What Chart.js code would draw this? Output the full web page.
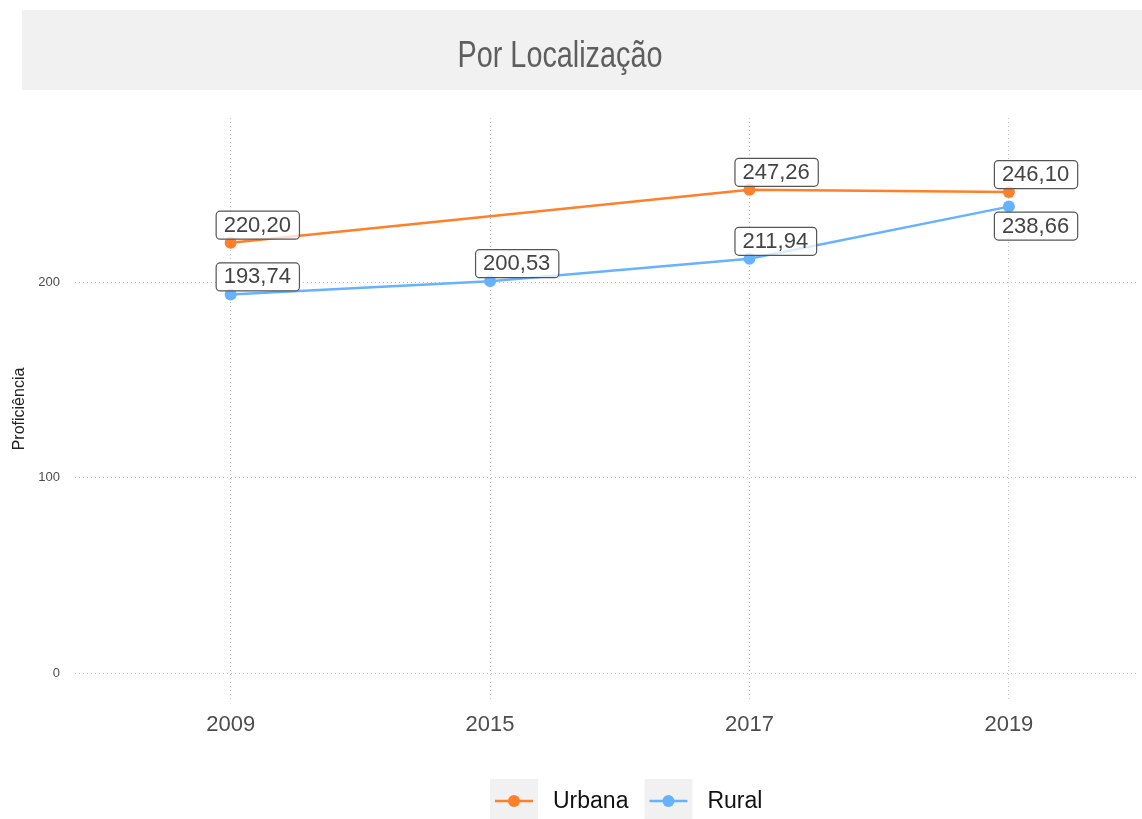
<!DOCTYPE html>
<html lang="pt">
<head>
  <meta charset="UTF-8" />
  <title>Por Localização</title>
  <script src="https://cdn.jsdelivr.net/npm/chart.js"></script>
  <style>
    html, body { margin: 0; padding: 0; background: #fff; overflow: hidden; }
    #wrap { position: relative; width: 1142px; height: 819px; }
  </style>
</head>
<body>
  <div id="wrap"><canvas id="chart" width="1142" height="819"></canvas></div>

  <script>
    // dados
    const anos = ['2009', '2015', '2017', '2019'];
    const urbana = [220.20, null, 247.26, 246.10];
    const rural = [193.74, 200.53, 211.94, 238.66];
    const yTicks = [0, 100, 200];
    const rotuloAbaixo = [[false, false, false, false], [false, false, false, true]];

    const fmt = v => v.toFixed(2).replace('.', ',');
    const pontos = arr => arr.map((v, i) => ({ x: i, y: v })).filter(p => p.y !== null);

    const SANS = '"Liberation Sans", Arial, Helvetica, sans-serif';

    // faixa cinza do título (fonte condensada simulada com escala horizontal)
    const fundoTitulo = {
      id: 'fundoTitulo',
      beforeDraw(chart) {
        const ctx = chart.ctx;
        ctx.save();
        ctx.fillStyle = '#f1f1f1';
        ctx.fillRect(22, 10, chart.width - 22, 80);
        ctx.fillStyle = '#5e5e5e';
        ctx.font = '36px ' + SANS;
        ctx.textAlign = 'center';
        ctx.textBaseline = 'alphabetic';
        ctx.translate(560, 67);
        ctx.scale(0.8, 1);
        ctx.fillText('Por Localização', 0, 0);
        ctx.restore();
      }
    };

    const rotulos = {
      id: 'rotulos',
      afterDatasetsDraw(chart) {
        const ctx = chart.ctx;
        ctx.save();
        ctx.font = '22px ' + SANS;
        ctx.textAlign = 'center';
        ctx.textBaseline = 'middle';
        chart.data.datasets.forEach((ds, d) => {
          const meta = chart.getDatasetMeta(d);
          meta.data.forEach((el, k) => {
            const p = ds.data[k];
            const txt = fmt(p.y);
            const w = ctx.measureText(txt).width + 16;
            const h = 28;
            const left = el.x - 15;
            const top = rotuloAbaixo[d][p.x] ? el.y + 5 : el.y - 4 - h;
            ctx.beginPath();
            ctx.roundRect(left + 0.5, top + 0.5, w, h, 4);
            ctx.fillStyle = 'rgba(255,255,255,0.75)';
            ctx.fill();
            ctx.lineWidth = 1.2;
            ctx.strokeStyle = '#555';
            ctx.stroke();
            ctx.fillStyle = '#444';
            ctx.fillText(txt, left + w / 2, top + h / 2 + 1);
          });
        });
        ctx.restore();
      }
    };

    const legenda = {
      id: 'legenda',
      afterDraw(chart) {
        const ctx = chart.ctx;
        ctx.save();
        ctx.font = '23px ' + SANS;
        ctx.textBaseline = 'middle';
        let x = 490;
        const yc = 801;
        chart.data.datasets.forEach(ds => {
          ctx.fillStyle = '#f1f1f1';
          ctx.fillRect(x, 779, 48, 42);
          ctx.strokeStyle = ds.borderColor;
          ctx.lineWidth = 2.5;
          ctx.beginPath();
          ctx.moveTo(x + 5, yc);
          ctx.lineTo(x + 43, yc);
          ctx.stroke();
          ctx.fillStyle = ds.borderColor;
          ctx.beginPath();
          ctx.arc(x + 24, yc, 6, 0, Math.PI * 2);
          ctx.fill();
          ctx.fillStyle = '#111';
          ctx.textAlign = 'left';
          ctx.fillText(ds.label, x + 63, yc + 1);
          x += 63 + ctx.measureText(ds.label).width + 16;
        });
        ctx.restore();
      }
    };

    new Chart(document.getElementById('chart'), {
      type: 'line',
      data: {
        datasets: [
          {
            label: 'Urbana',
            data: pontos(urbana),
            borderColor: '#ff7f2a',
            backgroundColor: '#ff7f2a',
            borderWidth: 2.5,
            pointRadius: 6,
            pointBorderWidth: 0,
            tension: 0
          },
          {
            label: 'Rural',
            data: pontos(rural),
            borderColor: '#66b2ff',
            backgroundColor: '#66b2ff',
            borderWidth: 2.5,
            pointRadius: 6,
            pointBorderWidth: 0,
            tension: 0
          }
        ]
      },
      options: {
        responsive: false,
        animation: false,
        events: [],
        layout: { padding: { top: 118, right: 0, left: 0, bottom: 0 } },
        plugins: {
          legend: { display: false },
          tooltip: { enabled: false },
          title: { display: false }
        },
        scales: {
          x: {
            type: 'linear',
            min: -0.6,
            max: 3.49,
            afterBuildTicks: s => { s.ticks = anos.map((a, i) => ({ value: i })); },
            afterFit: s => { s.height = 119; },
            grid: { color: '#c4c4c4', lineWidth: 1, drawTicks: false },
            border: { display: false, dash: [1, 3] },
            ticks: {
              callback: v => anos[v],
              padding: 12,
              color: '#4d4d4d',
              font: { family: SANS, size: 22 },
              maxRotation: 0
            }
          },
          y: {
            min: -13.8,
            max: 284,
            afterBuildTicks: s => { s.ticks = yTicks.map(v => ({ value: v })); },
            afterFit: s => { s.width = 75; },
            grid: { color: '#c4c4c4', lineWidth: 1, drawTicks: false },
            border: { display: false, dash: [1, 3] },
            ticks: {
              padding: 15,
              color: '#4d4d4d',
              font: { family: SANS, size: 13 }
            },
            title: {
              display: true,
              text: 'Proficiência',
              color: '#222',
              font: { family: SANS, size: 16 },
              padding: { top: 10, bottom: 0 }
            }
          }
        }
      },
      plugins: [fundoTitulo, rotulos, legenda]
    });
  </script>
</body>
</html>
